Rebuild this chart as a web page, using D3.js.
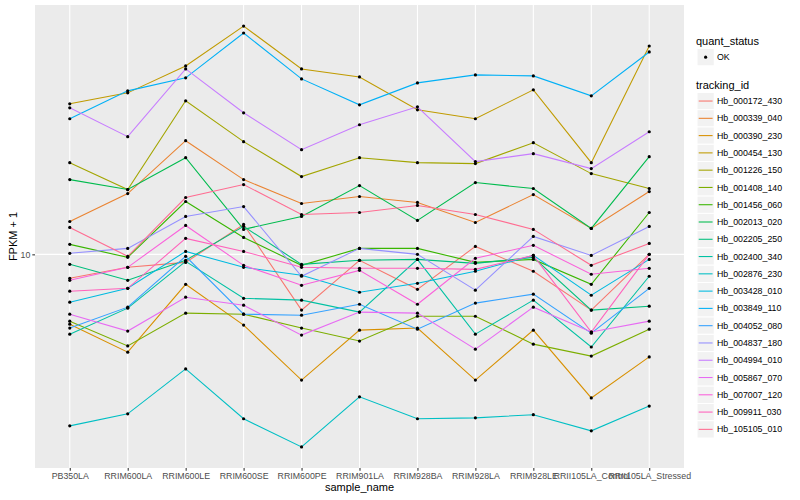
<!DOCTYPE html>
<html>
<head>
<meta charset="utf-8">
<script src="https://cdn.jsdelivr.net/npm/d3@7"></script>
<style>
  html, body { margin: 0; padding: 0; background: #fff; }
  svg text { font-family: "Liberation Sans", Arial, Helvetica, sans-serif; }
</style>
</head>
<body>
<svg id="chart" width="800" height="500"></svg>
<script>
// ---- data ----
const samples = ["PB350LA","RRIM600LA","RRIM600LE","RRIM600SE","RRIM600PE","RRIM901LA",
                 "RRIM928BA","RRIM928LA","RRIM928LE","RRII105LA_Control","RRII105LA_Stressed"];

const trackingIds = ["Hb_000172_430","Hb_000339_040","Hb_000390_230","Hb_000454_130","Hb_001226_150",
  "Hb_001408_140","Hb_001456_060","Hb_002013_020","Hb_002205_250","Hb_002400_340","Hb_002876_230",
  "Hb_003428_010","Hb_003849_110","Hb_004052_080","Hb_004837_180","Hb_004994_010","Hb_005867_070",
  "Hb_007007_120","Hb_009911_030","Hb_105105_010"];

// FPKM + 1, one array per tracking_id (sample order as above)
const Hb_000172_430 = [8.32, 9.05, 9.40, 12.59, 6.51, 9.55, 7.64, 10.63, 8.78, 6.51, 10.00];
const Hb_000339_040 = [12.88, 15.97, 23.99, 17.78, 14.79, 15.61, 14.91, 12.78, 15.85, 12.21, 16.22];
const Hb_000390_230 = [5.84, 4.71, 7.94, 5.80, 3.80, 5.58, 5.67, 3.80, 5.58, 3.31, 4.54];
const Hb_000454_130 = [31.87, 34.67, 42.66, 57.99, 41.69, 39.20, 30.43, 28.40, 35.48, 20.26, 49.74];
const Hb_001226_150 = [20.26, 16.47, 32.61, 23.81, 18.20, 21.05, 20.26, 20.11, 23.62, 18.62, 16.60];
const Hb_001408_140 = [5.98, 4.94, 6.36, 6.31, 5.67, 5.13, 6.21, 6.21, 5.01, 4.57, 5.62];
const Hb_001456_060 = [10.80, 9.77, 15.02, 11.39, 9.19, 10.47, 10.47, 9.40, 9.62, 7.94, 13.80];
const Hb_002013_020 = [17.78, 16.47, 21.05, 12.12, 13.39, 16.98, 12.98, 17.38, 16.60, 12.21, 21.22];
const Hb_002205_250 = [9.26, 8.19, 9.55, 12.40, 9.26, 9.55, 9.62, 9.33, 9.77, 6.51, 6.71];
const Hb_002400_340 = [5.41, 6.61, 9.48, 7.13, 7.03, 6.41, 9.62, 5.41, 7.03, 4.90, 8.45];
const Hb_002876_230 = [2.67, 2.93, 4.14, 2.82, 2.27, 3.34, 2.82, 2.84, 2.91, 2.57, 3.11];
const Hb_003428_010 = [6.92, 7.70, 10.23, 9.05, 8.51, 7.47, 8.00, 8.78, 9.92, 7.30, 9.62];
const Hb_003849_110 = [28.40, 35.21, 38.91, 54.96, 38.61, 31.62, 37.44, 39.81, 39.51, 33.88, 47.50];
const Hb_004052_080 = [5.67, 6.66, 9.85, 6.31, 6.26, 6.81, 5.62, 6.87, 7.36, 5.45, 7.70];
const Hb_004837_180 = [10.08, 10.47, 13.39, 14.45, 8.45, 10.47, 10.00, 7.59, 11.48, 9.92, 12.40];
const Hb_004994_010 = [30.90, 24.74, 41.69, 29.74, 22.39, 27.12, 31.14, 20.42, 21.71, 19.35, 25.70];
const Hb_005867_070 = [6.31, 5.54, 7.19, 6.76, 5.37, 6.41, 6.36, 4.82, 6.66, 5.50, 5.98];
const Hb_007007_120 = [8.19, 9.05, 12.49, 9.19, 7.88, 8.84, 6.81, 9.70, 10.72, 8.58, 8.98];
const Hb_009911_030 = [7.53, 7.70, 11.31, 10.23, 9.05, 8.98, 8.98, 8.91, 9.92, 5.50, 10.00];
const Hb_105105_010 = [12.30, 9.85, 15.49, 17.11, 13.59, 13.80, 14.57, 13.59, 12.12, 9.19, 10.88];

const seriesValues = [Hb_000172_430, Hb_000339_040, Hb_000390_230, Hb_000454_130, Hb_001226_150,
  Hb_001408_140, Hb_001456_060, Hb_002013_020, Hb_002205_250, Hb_002400_340, Hb_002876_230,
  Hb_003428_010, Hb_003849_110, Hb_004052_080, Hb_004837_180, Hb_004994_010, Hb_005867_070,
  Hb_007007_120, Hb_009911_030, Hb_105105_010];

const yTicks = [10];
const quantStatus = ["OK"];

// ---- layout ----
const svg = d3.select("#chart");
const panel = { left: 35, right: 684, top: 5, bottom: 468 };

const colors = ["#F8766D","#EA8331","#D89000","#C09B00","#A3A500","#7CAE00","#39B600","#00BB4E",
  "#00BF7D","#00C1A3","#00BFC4","#00BAE0","#00B0F6","#35A2FF","#9590FF","#C77CFF","#E76BF3",
  "#FA62DB","#FF62BC","#FF6C91"];
const color = d3.scaleOrdinal().domain(trackingIds).range(colors);

const series = trackingIds.map((id, i) => ({
  id, values: samples.map((s, j) => ({ sample: s, value: seriesValues[i][j] }))
}));

// discrete x with ggplot-like 0.6 expansion
const nS = samples.length;
const step = (panel.right - panel.left) / (nS - 1 + 1.2);
const x = d3.scalePoint().domain(samples)
  .range([panel.left + 0.6 * step, panel.right - 0.6 * step]);

// log y with 5% expansion in log space
const allVals = seriesValues.flat();
const lmin = Math.log10(d3.min(allVals)), lmax = Math.log10(d3.max(allVals));
const pad = (lmax - lmin) * 0.05;
const y = d3.scaleLog().domain([Math.pow(10, lmin - pad), Math.pow(10, lmax + pad)])
  .range([panel.bottom, panel.top]);

// panel background
svg.append("rect").attr("x", panel.left).attr("y", panel.top)
  .attr("width", panel.right - panel.left).attr("height", panel.bottom - panel.top)
  .attr("fill", "#EBEBEB");

// gridlines
svg.append("g").selectAll("line").data(samples).join("line")
  .attr("x1", d => x(d)).attr("x2", d => x(d))
  .attr("y1", panel.top).attr("y2", panel.bottom)
  .attr("stroke", "#fff").attr("stroke-width", 1.07);
svg.append("g").selectAll("line").data(yTicks).join("line")
  .attr("x1", panel.left).attr("x2", panel.right)
  .attr("y1", d => y(d)).attr("y2", d => y(d))
  .attr("stroke", "#fff").attr("stroke-width", 1.07);

// axes
const xAxis = svg.append("g").attr("transform", `translate(0,${panel.bottom})`)
  .call(d3.axisBottom(x).tickSize(2.7).tickPadding(2));
xAxis.select(".domain").remove();
xAxis.selectAll("line").attr("stroke", "#333").attr("stroke-width", 1.07);
xAxis.selectAll("text").attr("fill", "#4D4D4D").style("font-size", "8.8px")
  .attr("dy", "0.71em");

const yAxis = svg.append("g").attr("transform", `translate(${panel.left},0)`)
  .call(d3.axisLeft(y).tickValues(yTicks).tickFormat(d3.format("d")).tickSize(2.7).tickPadding(2));
yAxis.select(".domain").remove();
yAxis.selectAll("line").attr("stroke", "#333").attr("stroke-width", 1.07);
yAxis.selectAll("text").attr("fill", "#4D4D4D").style("font-size", "8.8px");

// axis titles
svg.append("text").attr("x", (panel.left + panel.right) / 2).attr("y", 491)
  .attr("text-anchor", "middle").style("font-size", "11px").attr("fill", "#000")
  .text("sample_name");
svg.append("text").attr("transform", `translate(17,${(panel.top + panel.bottom) / 2}) rotate(-90)`)
  .attr("text-anchor", "middle").style("font-size", "11px").attr("fill", "#000")
  .text("FPKM + 1");

// lines
const line = d3.line().x(d => x(d.sample)).y(d => y(d.value));
const plot = svg.append("g");
plot.selectAll("path").data(series).join("path")
  .attr("d", d => line(d.values))
  .attr("fill", "none").attr("stroke", d => color(d.id)).attr("stroke-width", 1.07);

// points
plot.append("g").selectAll("g").data(series).join("g")
  .selectAll("circle").data(d => d.values).join("circle")
  .attr("cx", d => x(d.sample)).attr("cy", d => y(d.value)).attr("r", 1.6)
  .attr("fill", "#000");

// legend
const lg = svg.append("g");
const keySize = 17.28, lgX = 697;
lg.append("text").attr("x", 696).attr("y", 45).style("font-size", "11px").text("quant_status");
quantStatus.forEach((q, i) => {
  const ky = 48.5 + i * keySize;
  lg.append("rect").attr("x", lgX).attr("y", ky).attr("width", keySize).attr("height", keySize)
    .attr("fill", "#F2F2F2").attr("stroke", "#fff").attr("stroke-width", 1);
  lg.append("circle").attr("cx", lgX + keySize / 2).attr("cy", ky + keySize / 2).attr("r", 1.6).attr("fill", "#000");
  lg.append("text").attr("x", 717).attr("y", ky + keySize / 2 + 3.1).style("font-size", "8.8px").text(q);
});

lg.append("text").attr("x", 696).attr("y", 88.5).style("font-size", "11px").text("tracking_id");
const items = lg.selectAll("g.item").data(trackingIds).join("g").attr("class", "item")
  .attr("transform", (d, i) => `translate(${lgX},${92.4 + i * keySize})`);
items.append("rect").attr("width", keySize).attr("height", keySize)
  .attr("fill", "#F2F2F2").attr("stroke", "#fff").attr("stroke-width", 1);
items.append("line").attr("x1", 1.7).attr("x2", keySize - 1.7)
  .attr("y1", keySize / 2).attr("y2", keySize / 2)
  .attr("stroke", d => color(d)).attr("stroke-width", 1.07);
items.append("text").attr("x", 20).attr("y", keySize / 2 + 3.1)
  .style("font-size", "8.8px").attr("fill", "#000").text(d => d);
</script>
</body>
</html>
